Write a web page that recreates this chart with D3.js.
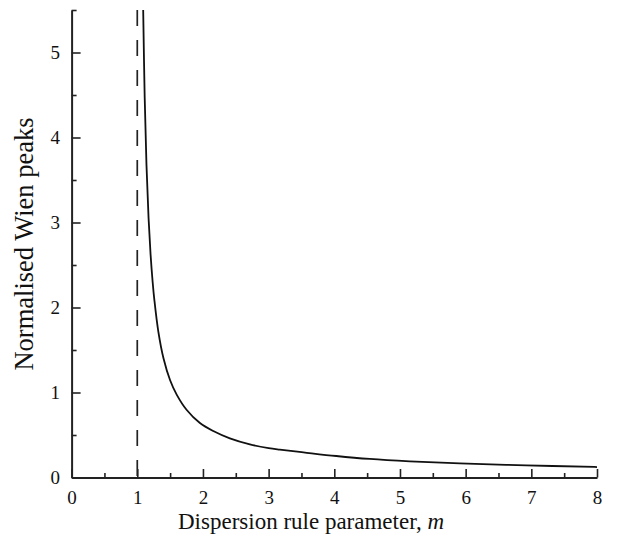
<!DOCTYPE html>
<html>
<head>
<meta charset="utf-8">
<script src="https://cdn.jsdelivr.net/npm/d3@7"></script>
<style>
  body { margin: 0; background: #fff; }
  svg { display: block; }
  text { font-family: "Liberation Serif", "DejaVu Serif", serif; fill: #111; }
</style>
</head>
<body>
<svg id="chart" width="622" height="535"></svg>
<script>
// values
var mValues = [1.09, 1.113, 1.14, 1.172, 1.202, 1.234, 1.26, 1.32, 1.40, 1.50, 1.60, 1.75, 1.954, 2.157, 2.41, 2.715, 3.0, 3.17, 3.53, 4.03, 4.54, 5.15, 5.91, 6.92, 7.96, 8.0];
var peakValues = [5.5, 4.47, 3.68, 3.05, 2.63, 2.30, 2.09, 1.72, 1.40, 1.144, 0.975, 0.797, 0.641, 0.547, 0.461, 0.39, 0.346, 0.328, 0.296, 0.253, 0.218, 0.19, 0.165, 0.143, 0.124, 0.123];
var xTicks = [0, 1, 2, 3, 4, 5, 6, 7, 8];
var yTicks = [0, 1, 2, 3, 4, 5];
var xMinor = [0.5, 1.5, 2.5, 3.5, 4.5, 5.5, 6.5, 7.5];
var yMinor = [0.5, 1.5, 2.5, 3.5, 4.5, 5.5];
var asymptote = 1; // dashed line position

var svg = d3.select("#chart");
var x = d3.scaleLinear().domain([0, 8]).range([71.6, 597]);
var y = d3.scaleLinear().domain([0, 5.5]).range([477.5, 10]);

// minor ticks first, majors drawn over
svg.append("g")
    .attr("transform", "translate(0," + y(0) + ")")
    .call(d3.axisBottom(x).tickValues(xMinor).tickSize(-4.5).tickSizeOuter(0).tickFormat(""))
    .call(function (g) { g.select(".domain").remove(); });
svg.append("g")
    .attr("transform", "translate(" + x(0) + ",0)")
    .call(d3.axisLeft(y).tickValues(yMinor).tickSize(-5).tickSizeOuter(0).tickFormat(""))
    .call(function (g) { g.select(".domain").remove(); });

svg.append("g")
    .attr("transform", "translate(0," + y(0) + ")")
    .call(d3.axisBottom(x).tickValues(xTicks).tickSize(-8.5).tickSizeOuter(0).tickPadding(13).tickFormat(d3.format("d")));
svg.append("g")
    .attr("transform", "translate(" + x(0) + ",0)")
    .call(d3.axisLeft(y).tickValues(yTicks).tickSize(-9).tickSizeOuter(0).tickPadding(11.5).tickFormat(d3.format("d")));

svg.selectAll(".tick line").attr("stroke", "#222").attr("stroke-width", 1.6);
svg.selectAll(".domain").attr("stroke", "#222").attr("stroke-width", 2);
svg.selectAll(".tick text")
    .style("font-family", "'Liberation Serif', serif")
    .style("font-size", "19px")
    .attr("fill", "#111");

// dashed line at m = 1
svg.append("line")
    .attr("x1", x(asymptote)).attr("x2", x(asymptote))
    .attr("y1", y(5.5)).attr("y2", y(0))
    .attr("stroke", "#222")
    .attr("stroke-width", 1.7)
    .attr("stroke-dasharray", "16,14");

// the curve
var pts = mValues.map(function (m, i) { return [m, peakValues[i]]; });
var line = d3.line()
    .x(function (d) { return x(d[0]); })
    .y(function (d) { return y(d[1]); })
    .curve(d3.curveCatmullRom.alpha(0.5));
svg.append("path")
    .datum(pts)
    .attr("d", line)
    .attr("fill", "none")
    .attr("stroke", "#111")
    .attr("stroke-width", 1.8);

// axis titles
var xt = svg.append("text")
    .attr("x", 311)
    .attr("y", 528.5)
    .attr("text-anchor", "middle")
    .style("font-size", "23px");
xt.append("tspan").text("Dispersion rule parameter, ");
xt.append("tspan").style("font-style", "italic").text("m");

svg.append("text")
    .attr("transform", "translate(33,244) rotate(-90)")
    .attr("text-anchor", "middle")
    .style("font-size", "26.5px")
    .text("Normalised Wien peaks");
</script>
</body>
</html>
